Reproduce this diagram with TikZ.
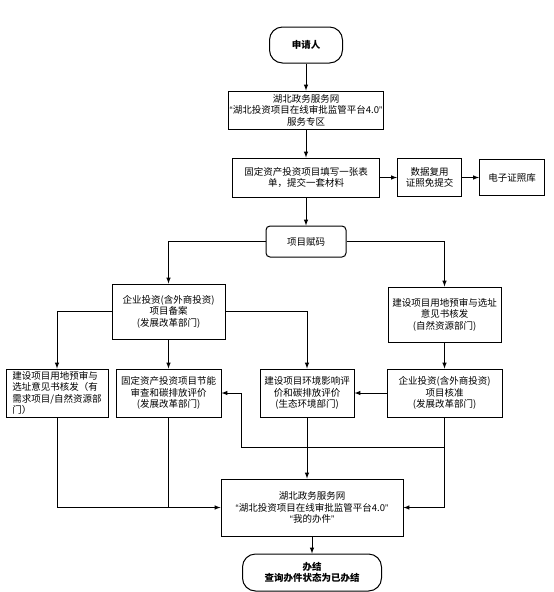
\documentclass[tikz,border=0pt]{standalone}
\usepackage{fontspec}
\setmainfont{Noto Sans CJK SC}
\newfontfamily\latinfont{Liberation Sans}
\newcommand\quoted[1]{{\latinfont“}#1{\latinfont”}}
\usetikzlibrary{positioning}

\begin{document}
\begin{tikzpicture}[
  x=1pt, y=1pt,
  every node/.style={font=\fontsize{9.5}{11.5}\selectfont},
  box/.style={rectangle, draw=black, line width=1pt, fill=white, align=center, inner sep=1pt},
  term/.style={box, rounded corners=13pt, font=\fontsize{9.5}{11.5}\selectfont\bfseries},
  ar/.style={->, >=latex, line width=1pt}
]
  \useasboundingbox (0,0) rectangle (554,-592);
  % top chain
  \node[term, minimum width=73pt, minimum height=36pt] (start) at (306,-45) {申请人};
  \node[box, below=27pt of start, minimum width=152pt, minimum height=38pt] (portal) {湖北政务服务网\\\quoted{湖北投资项目在线审批监管平台4.0}\\服务专区};
  \node[box, below=28pt of portal, minimum width=147pt, minimum height=39pt] (form) {固定资产投资项目填写一张表\\单，提交一套材料};
  \node[box, right=17pt of form, minimum width=64pt, minimum height=38pt] (reuse) {数据复用\\证照免提交};
  \node[box, right=17pt of reuse, minimum width=65pt, minimum height=36pt] (license) {电子证照库};
  \node[box, rounded corners=4pt, below=28pt of form, minimum width=80pt, minimum height=31pt] (code) {项目赋码};
  % second row
  \node[box, below left=26pt and 40pt of code, minimum width=113pt, minimum height=55pt] (filing) {企业投资(含外商投资)\\项目备案\\(发展改革部门)};
  \node[box, below right=29pt and 41pt of code, minimum width=113pt, minimum height=55pt] (landuse) {建设项目用地预审与选址\\意见书核发\\(自然资源部门)};
  % third row
  \node[box, below=29pt of filing, minimum width=105pt, minimum height=48pt] (energy) {固定资产投资项目节能\\审查和碳排放评价\\(发展改革部门)};
  \node[box, left=7pt of energy, minimum width=102pt, minimum height=48pt, align=left] (siting) {建设项目用地预审与\\选址意见书核发（有\\需求项目/自然资源部\\门）};
  \node[box, below=26pt of landuse, minimum width=115pt, minimum height=48pt] (approve) {企业投资(含外商投资)\\项目核准\\(发展改革部门)};
  \node[box, left=32pt of approve, minimum width=94pt, minimum height=48pt] (env) {建设项目环境影响评\\价和碳排放评价\\(生态环境部门)};
  % bottom
  \node[box, below=61pt of env, xshift=5pt, minimum width=182pt, minimum height=57pt] (mine) {湖北政务服务网\\\quoted{湖北投资项目在线审批监管平台4.0}\\\quoted{我的办件}};
  \node[term, below=17pt of mine, minimum width=139pt, minimum height=37pt] (done) {办结\\查询办件状态为已办结};
  \coordinate[below=30pt of approve.south] (split);
  \coordinate[right=20pt of energy.east] (bend);

  \draw[ar] (start) -- (portal);
  \draw[ar] (portal) -- (form);
  \draw[ar] (form) -- (reuse);
  \draw[ar] (reuse) -- (license);
  \draw[ar] (form) -- (code);
  \draw[ar] (code.west) -| (filing.north);
  \draw[ar] (code.east) -| (landuse.north);
  \draw[ar] (filing.west) -| (siting.north);
  \draw[ar] (filing) -- (energy);
  \draw[ar] (filing.east) -| (env.north);
  \draw[ar] (landuse) -- (approve);
  \draw[ar] (approve) -- (env);
  \draw[ar] (approve.south) |- (mine.east);
  \draw[ar] (split) -| (bend) -- (energy.east);
  \draw[ar] (env.south) -- (env.south |- mine.north);
  \draw[ar] (siting.south) |- (mine.west);
  \draw (energy.south) -- (energy.south |- mine.west);
  \draw[ar] (mine) -- (done);
\end{tikzpicture}
\end{document}
